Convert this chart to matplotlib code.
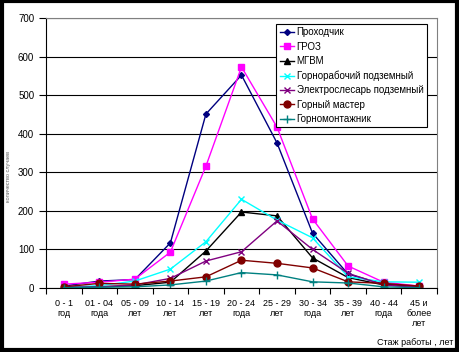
import matplotlib
matplotlib.use("Agg")
import matplotlib.pyplot as plt
from matplotlib.patches import Rectangle

plt.rcParams['font.family'] = ['Liberation Sans', 'DejaVu Sans']

cats = ["0 - 1\nгод", "01 - 04\nгода", "05 - 09\nлет", "10 - 14\nлет", "15 - 19\nлет",
        "20 - 24\nгода", "25 - 29\nлет", "30 - 34\nгода", "35 - 39\nлет", "40 - 44\nгода",
        "45 и\nболее\nлет"]

prohodchik = [5, 18, 22, 117, 451, 552, 376, 142, 36, 10, 3]
groz = [10, 15, 23, 93, 316, 573, 417, 179, 57, 15, 5]
mgvm = [2, 3, 6, 15, 96, 197, 187, 78, 27, 8, 3]
gornorab = [2, 6, 18, 49, 120, 230, 176, 130, 29, 16, 15]
elektro = [2, 3, 8, 25, 70, 94, 174, 100, 38, 8, 2]
master = [3, 12, 10, 18, 29, 72, 64, 52, 16, 12, 5]
montazh = [1, 2, 3, 8, 18, 40, 34, 16, 13, 3, 1]

series = [
    ("Проходчик", prohodchik, "#000080", "D", 3),
    ("ГРОЗ", groz, "#FF00FF", "s", 4),
    ("МГВМ", mgvm, "#000000", "^", 4),
    ("Горнорабочий подземный", gornorab, "#00FFFF", "x", 5),
    ("Электрослесарь подземный", elektro, "#800080", "x", 5),
    ("Горный мастер", master, "#800000", "o", 5),
    ("Горномонтажник", montazh, "#008080", "+", 6),
]

fig = plt.figure(figsize=(4.59, 3.52), dpi=100)
fig.patches.append(Rectangle((0.004, 0.006), 0.991, 0.99, transform=fig.transFigure,
                             fill=False, edgecolor="black", linewidth=3))
ax = fig.add_axes([0.1002, 0.1818, 0.8518, 0.7671])

x = list(range(len(cats)))
for name, vals, col, mk, ms in series:
    ax.plot(x, vals, color=col, marker=mk, markersize=ms, linewidth=1,
            markeredgewidth=1, label=name)

ax.set_xlim(-0.5, 10.5)
ax.set_ylim(0, 700)
ax.set_yticks(range(0, 701, 100))
ax.yaxis.grid(True, color="black", linewidth=0.8)
ax.set_axisbelow(True)
for s in ["top", "right"]:
    ax.spines[s].set_color("#808080")
for s in ["left", "bottom"]:
    ax.spines[s].set_color("black")
ax.tick_params(axis="y", labelsize=7, length=5, width=0.8, direction="out")

ax.set_xticks(x)
ax.set_xticklabels(cats, fontsize=6.5, linespacing=1.15)
ax.set_xticks([i - 0.5 for i in range(len(cats) + 1)], minor=True)
ax.tick_params(axis="x", which="major", length=0, pad=8)
ax.tick_params(axis="x", which="minor", length=4, width=0.8)

fig.text(0.012, 0.5, "количество случаев", rotation=90, fontsize=4,
         color="#606060", va="center", ha="left")
fig.text(0.988, 0.028, "Стаж работы , лет", fontsize=6.5, ha="right", va="center")

leg = ax.legend(loc="upper right", bbox_to_anchor=(0.974, 0.978), fontsize=7,
                frameon=True, fancybox=False, edgecolor="black", framealpha=1,
                borderpad=0.35, labelspacing=0.45, handlelength=1.5,
                handletextpad=0.25, borderaxespad=0)
leg.get_frame().set_linewidth(0.8)

fig.savefig("out.png", dpi=100)
